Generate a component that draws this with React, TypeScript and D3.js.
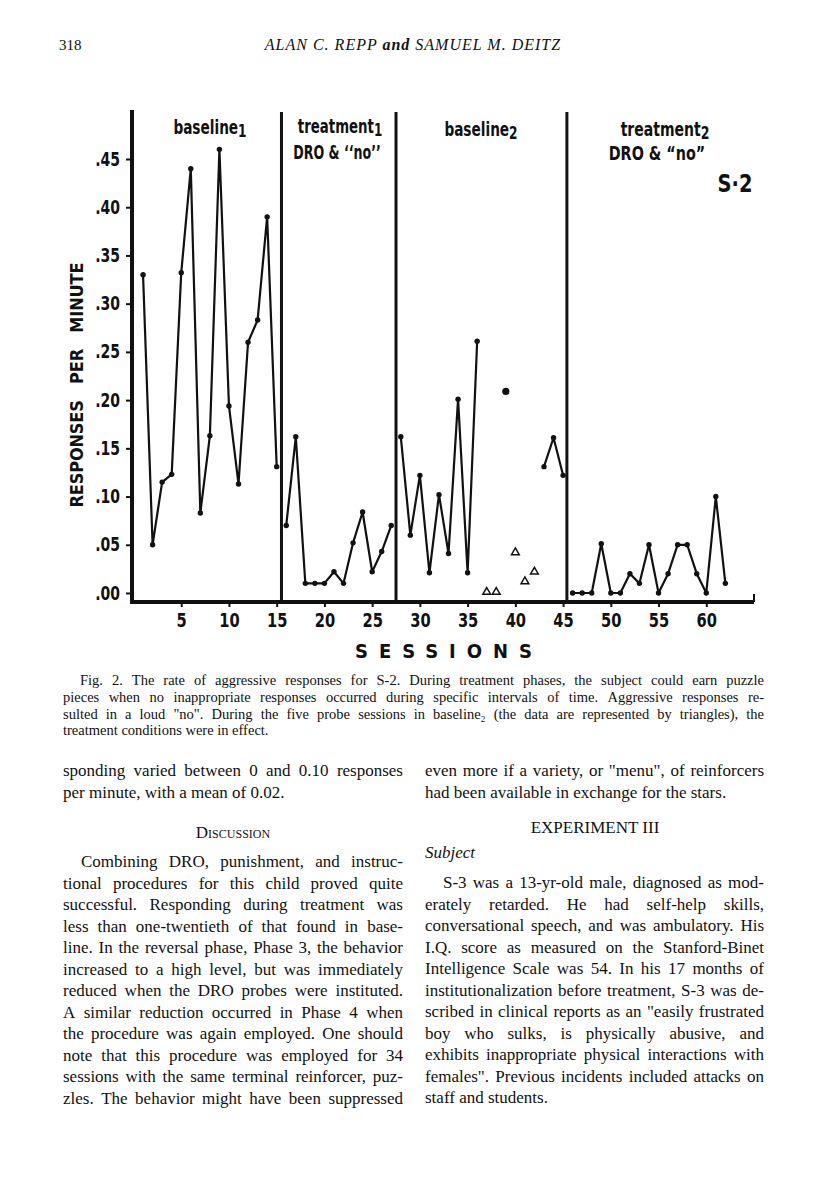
import React, { useRef, useEffect } from 'react';
import * as d3 from 'd3';

// sessions and response rates
const baseline1Sessions = [1, 2, 3, 4, 5, 6, 7, 8, 9, 10, 11, 12, 13, 14, 15];
const baseline1Rates = [0.33, 0.05, 0.115, 0.123, 0.332, 0.44, 0.083, 0.163, 0.46, 0.194, 0.113, 0.26, 0.283, 0.39, 0.131];

const treatment1Sessions = [16, 17, 18, 19, 20, 21, 22, 23, 24, 25, 26, 27];
const treatment1Rates = [0.07, 0.162, 0.01, 0.01, 0.01, 0.022, 0.01, 0.052, 0.084, 0.022, 0.043, 0.07];

const baseline2aSessions = [28, 29, 30, 31, 32, 33, 34, 35, 36];
const baseline2aRates = [0.162, 0.06, 0.122, 0.021, 0.102, 0.041, 0.201, 0.021, 0.261];

const baseline2LoneSessions = [39];
const baseline2LoneRates = [0.209];

const baseline2bSessions = [43, 44, 45];
const baseline2bRates = [0.131, 0.161, 0.122];

const probeSessions = [37, 38, 40, 41, 42];
const probeRates = [0.0, 0.0, 0.041, 0.011, 0.021];

const treatment2Sessions = [46, 47, 48, 49, 50, 51, 52, 53, 54, 55, 56, 57, 58, 59, 60, 61, 62];
const treatment2Rates = [0, 0, 0, 0.051, 0, 0, 0.02, 0.01, 0.05, 0, 0.02, 0.05, 0.05, 0.02, 0, 0.1, 0.01];

const phaseBreaks = [15.5, 27.5, 45.4];

const yTicks = [0, 0.05, 0.1, 0.15, 0.2, 0.25, 0.3, 0.35, 0.4, 0.45];
const xTicks = [5, 10, 15, 20, 25, 30, 35, 40, 45, 50, 55, 60];

const captionLines = [
  'Fig. 2. The rate of aggressive responses for S-2. During treatment phases, the subject could earn puzzle',
  'pieces when no inappropriate responses occurred during specific intervals of time. Aggressive responses re-',
  'sulted in a loud "no". During the five probe sessions in baseline\u2082 (the data are represented by triangles), the',
  'treatment conditions were in effect.',
];

const leftTopLines = [
  'sponding varied between 0 and 0.10 responses',
  'per minute, with a mean of 0.02.',
];

const discussionLines = [
  'Combining DRO, punishment, and instruc-',
  'tional procedures for this child proved quite',
  'successful. Responding during treatment was',
  'less than one-twentieth of that found in base-',
  'line. In the reversal phase, Phase 3, the behavior',
  'increased to a high level, but was immediately',
  'reduced when the DRO probes were instituted.',
  'A similar reduction occurred in Phase 4 when',
  'the procedure was again employed. One should',
  'note that this procedure was employed for 34',
  'sessions with the same terminal reinforcer, puz-',
  'zles. The behavior might have been suppressed',
];

const rightTopLines = [
  'even more if a variety, or "menu", of reinforcers',
  'had been available in exchange for the stars.',
];

const subjectLines = [
  'S-3 was a 13-yr-old male, diagnosed as mod-',
  'erately retarded. He had self-help skills,',
  'conversational speech, and was ambulatory. His',
  'I.Q. score as measured on the Stanford-Binet',
  'Intelligence Scale was 54. In his 17 months of',
  'institutionalization before treatment, S-3 was de-',
  'scribed in clinical reports as an "easily frustrated',
  'boy who sulks, is physically abusive, and',
  'exhibits inappropriate physical interactions with',
  'females". Previous incidents included attacks on',
  'staff and students.',
];

const ink = '#111';
const condensed = "'Liberation Sans Narrow', 'DejaVu Sans Condensed', 'DejaVu Sans', sans-serif";
const serif = "'Liberation Serif', 'DejaVu Serif', serif";

function zip(s, v) {
  return s.map((d, i) => ({ s: d, v: v[i] }));
}

// lays out lines of text, spreading words to fill the measure
function drawLines(g, lines, opt) {
  const { x0, x1, y0, lh, indent, justifyLast } = opt;
  lines.forEach((line, i) => {
    const y = y0 + i * lh;
    const left = x0 + (i === 0 ? indent : 0);
    const justify = i < lines.length - 1 || justifyLast;
    if (!justify) {
      g.append('text').attr('x', left).attr('y', y).text(line);
      return;
    }
    const words = line.split(' ');
    const nodes = words.map(w => g.append('text').attr('y', y).text(w));
    const widths = nodes.map(n => n.node().getComputedTextLength());
    const gap = (x1 - left - d3.sum(widths)) / (words.length - 1);
    let cx = left;
    nodes.forEach((n, k) => {
      n.attr('x', cx);
      cx += widths[k] + gap;
    });
  });
}

function App() {
  const svgRef = useRef(null);

  useEffect(() => {
    const svg = d3.select(svgRef.current);
    svg.selectAll('*').remove();

    // scales
    const x = d3.scaleLinear().domain([0, 65]).range([133.5, 754]);
    const y = d3.scaleLinear().domain([0, 0.45]).range([593, 159]);

    const axisX = 132;
    const axisY = 602;
    const axisTop = 110;

    // header
    svg.append('text')
      .attr('x', 59).attr('y', 50)
      .attr('font-family', serif).attr('font-size', 15).attr('fill', ink)
      .text('318');
    const head = svg.append('text')
      .attr('x', 413).attr('y', 50)
      .attr('text-anchor', 'middle')
      .attr('font-family', serif).attr('font-size', 16).attr('font-style', 'italic')
      .attr('letter-spacing', 1).attr('fill', ink);
    head.append('tspan').text('ALAN C. REPP ');
    head.append('tspan').attr('font-weight', 'bold').text('and');
    head.append('tspan').text(' SAMUEL M. DEITZ');

    const chart = svg.append('g').attr('fill', ink);

    // axis lines
    chart.append('line')
      .attr('x1', axisX).attr('x2', axisX)
      .attr('y1', axisTop).attr('y2', axisY + 2)
      .attr('stroke', ink).attr('stroke-width', 4);
    chart.append('line')
      .attr('x1', axisX - 2).attr('x2', x(65))
      .attr('y1', axisY).attr('y2', axisY)
      .attr('stroke', ink).attr('stroke-width', 4);
    chart.append('line')
      .attr('x1', x(65)).attr('x2', x(65))
      .attr('y1', axisY).attr('y2', axisY - 8)
      .attr('stroke', ink).attr('stroke-width', 2);

    // y ticks
    const yAxis = d3.axisLeft(y)
      .tickValues(yTicks)
      .tickSize(6)
      .tickPadding(5)
      .tickFormat(d => d3.format('.2f')(d).replace(/^0/, ''));
    const yg = chart.append('g')
      .attr('transform', `translate(${axisX},0)`)
      .call(yAxis);
    yg.select('.domain').remove();
    yg.selectAll('line').attr('stroke', ink).attr('stroke-width', 2);
    yg.selectAll('text')
      .attr('x', -12 / 0.82)
      .attr('transform', 'scale(0.82,1)')
      .attr('font-family', condensed).attr('font-weight', 'bold')
      .attr('font-size', 19).attr('fill', ink);

    // x ticks
    const xAxis = d3.axisBottom(x)
      .tickValues(xTicks)
      .tickSize(5)
      .tickPadding(7);
    const xg = chart.append('g')
      .attr('transform', `translate(0,${axisY})`)
      .call(xAxis);
    xg.select('.domain').remove();
    xg.selectAll('line').attr('stroke', ink).attr('stroke-width', 2);
    xg.selectAll('text')
      .attr('transform', 'scale(0.86,1)')
      .attr('font-family', condensed).attr('font-weight', 'bold')
      .attr('font-size', 19).attr('fill', ink);

    // axis titles
    chart.append('text')
      .attr('transform', 'translate(83,385) rotate(-90)')
      .attr('text-anchor', 'middle')
      .attr('font-family', condensed).attr('font-weight', 'bold').attr('font-size', 18)
      .attr('textLength', 245).attr('lengthAdjust', 'spacing')
      .attr('xml:space', 'preserve')
      .text('RESPONSES   PER   MINUTE');
    chart.append('text')
      .attr('x', 355).attr('y', 658)
      .attr('font-family', condensed).attr('font-weight', 'bold').attr('font-size', 20)
      .attr('textLength', 177).attr('lengthAdjust', 'spacing')
      .text('SESSIONS');

    // phase change lines
    chart.selectAll('.phase')
      .data(phaseBreaks)
      .join('line')
      .attr('class', 'phase')
      .attr('x1', d => x(d)).attr('x2', d => x(d))
      .attr('y1', axisTop + 2).attr('y2', axisY)
      .attr('stroke', ink).attr('stroke-width', 3);

    // phase labels, squeezed to a condensed face
    const lab = chart.append('g')
      .attr('font-family', condensed).attr('font-weight', 'bold')
      .attr('font-size', 19).attr('text-anchor', 'middle');
    const label = (cx, by, sx, main, s, size = 19) => {
      const t = lab.append('g')
        .attr('transform', `translate(${cx},${by}) scale(${sx},1)`)
        .append('text').attr('font-size', size);
      t.append('tspan').text(main);
      if (s) t.append('tspan').attr('dy', 3).attr('font-size', 17).text(s);
    };
    label(210, 134, 0.8, 'baseline', '1');
    label(340, 133, 0.78, 'treatment', '1');
    label(337, 159, 0.74, 'DRO & \u2018\u2018no\u2019\u2019');
    label(481, 136, 0.8, 'baseline', '2');
    label(665, 136, 0.82, 'treatment', '2');
    label(657, 160, 0.84, 'DRO & \u201cno\u201d');
    label(735, 192, 0.9, 'S\u00b72', null, 24);

    // data lines
    const line = d3.line().x(d => x(d.s)).y(d => y(d.v));
    const segments = [
      zip(baseline1Sessions, baseline1Rates),
      zip(treatment1Sessions, treatment1Rates),
      zip(baseline2aSessions, baseline2aRates),
      zip(baseline2bSessions, baseline2bRates),
      zip(treatment2Sessions, treatment2Rates),
    ];
    chart.selectAll('.seg')
      .data(segments)
      .join('path')
      .attr('class', 'seg')
      .attr('d', d => line(d))
      .attr('fill', 'none')
      .attr('stroke', ink)
      .attr('stroke-width', 2.2)
      .attr('stroke-linejoin', 'round');

    chart.selectAll('.dot')
      .data(segments.flat())
      .join('circle')
      .attr('class', 'dot')
      .attr('cx', d => x(d.s)).attr('cy', d => y(d.v))
      .attr('r', 2.7).attr('fill', ink);

    chart.selectAll('.lone')
      .data(zip(baseline2LoneSessions, baseline2LoneRates))
      .join('circle')
      .attr('class', 'lone')
      .attr('cx', d => x(d.s)).attr('cy', d => y(d.v))
      .attr('r', 3.6).attr('fill', ink);

    const tri = d3.symbol(d3.symbolTriangle, 26);
    chart.selectAll('.probe')
      .data(zip(probeSessions, probeRates))
      .join('path')
      .attr('class', 'probe')
      .attr('transform', d => `translate(${x(d.s)},${y(d.v) - 1})`)
      .attr('d', tri())
      .attr('fill', 'white')
      .attr('stroke', ink)
      .attr('stroke-width', 1.5);

    // caption
    const cap = svg.append('g')
      .attr('font-family', serif).attr('font-size', 14.5).attr('fill', ink);
    drawLines(cap, captionLines, { x0: 63, x1: 764, y0: 685, lh: 16.8, indent: 17, justifyLast: false });

    // body text
    const body = svg.append('g')
      .attr('font-family', serif).attr('font-size', 17).attr('fill', ink);
    drawLines(body, leftTopLines, { x0: 63, x1: 403, y0: 776, lh: 21.5, indent: 0, justifyLast: false });
    body.append('text')
      .attr('x', 233).attr('y', 838).attr('text-anchor', 'middle')
      .attr('font-variant', 'small-caps').text('Discussion');
    drawLines(body, discussionLines, { x0: 63, x1: 403, y0: 867, lh: 21.5, indent: 18, justifyLast: true });

    drawLines(body, rightTopLines, { x0: 425, x1: 764, y0: 776, lh: 21.5, indent: 0, justifyLast: false });
    body.append('text')
      .attr('x', 595).attr('y', 833).attr('text-anchor', 'middle')
      .text('EXPERIMENT III');
    body.append('text')
      .attr('x', 425).attr('y', 858).attr('font-style', 'italic')
      .text('Subject');
    drawLines(body, subjectLines, { x0: 425, x1: 764, y0: 888, lh: 21.5, indent: 18, justifyLast: false });
  }, []);

  return (
    <div>
      <svg
        ref={svgRef}
        width={816}
        height={1195}
        style={{ position: 'absolute', left: 0, top: 0, background: 'white' }}
      />
    </div>
  );
}

export default App;
